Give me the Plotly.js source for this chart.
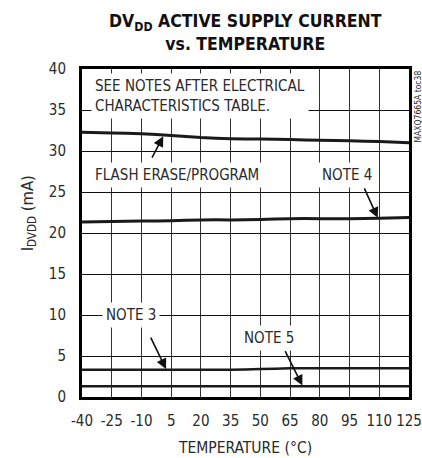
<!DOCTYPE html>
<html>
<head>
<meta charset="utf-8">
<script src="https://cdn.plot.ly/plotly-3.0.1.min.js"></script>
<style>html,body{margin:0;padding:0;background:#fff;}#chart{width:422px;height:458px;}</style>
</head>
<body>
<div id="chart"></div>
<script>
const temperature = [-40, -25, -10, 5, 20, 35, 50, 65, 80, 95, 110, 125];
const flashErase = [32.3, 32.2, 32.1, 31.9, 31.65, 31.5, 31.45, 31.4, 31.3, 31.25, 31.15, 31.0];
const note4 = [21.35, 21.4, 21.45, 21.5, 21.6, 21.6, 21.65, 21.75, 21.75, 21.75, 21.8, 21.9];
const note3 = [3.33, 3.33, 3.33, 3.33, 3.33, 3.33, 3.4, 3.5, 3.5, 3.5, 3.5, 3.5];
const note5 = [1.3, 1.3, 1.3, 1.3, 1.3, 1.3, 1.3, 1.3, 1.3, 1.3, 1.3, 1.3];
const xTicks = [-40, -25, -10, 5, 20, 35, 50, 65, 80, 95, 110, 125];
const yTicks = [0, 5, 10, 15, 20, 25, 30, 35, 40];

const FONT = '"Liberation Sans Narrow", "Arial Narrow", "DejaVu Sans Condensed", sans-serif';
const TXT = '#2a2a2a';

function line(y, w) {
  return {x: temperature, y: y, type: 'scatter', mode: 'lines',
    line: {color: '#1a1a1a', width: w, shape: 'spline', smoothing: 0.6},
    hoverinfo: 'skip', showlegend: false};
}

const data = [line(flashErase, 3), line(note4, 3), line(note3, 2.5), line(note5, 2.5)];

function label(text, x, y, xanchor, align) {
  return {text: text, x: x, y: y, xref: 'x', yref: 'y', showarrow: false,
    xanchor: xanchor || 'center', yanchor: 'middle', align: align || 'center',
    bgcolor: '#fff', borderpad: 3, font: {family: FONT, size: 15, color: TXT}};
}
function arrow(x, y, ax, ay) {
  return {text: '', x: x, y: y, xref: 'x', yref: 'y', showarrow: true,
    ax: ax, ay: ay, arrowhead: 2, arrowsize: 1.3, arrowwidth: 1.6, arrowcolor: '#111'};
}

const layout = {
  width: 422, height: 458,
  margin: {l: 82, r: 13, t: 69, b: 61},
  paper_bgcolor: '#fff', plot_bgcolor: '#fff',
  font: {family: FONT, color: TXT},
  xaxis: {range: [-40, 125], tickvals: xTicks, ticktext: xTicks.map(String),
    showgrid: true, gridcolor: '#333', gridwidth: 1, zeroline: false,
    showline: true, mirror: true, linecolor: '#000', linewidth: 3,
    ticks: '', tickangle: 0, ticklabeloverflow: 'allow', ticklabelstandoff: 8,
    tickfont: {family: FONT, size: 15, color: TXT},
    title: {text: 'TEMPERATURE (°C)', font: {family: FONT, size: 15.5, color: TXT}, standoff: 14}},
  yaxis: {range: [0, 40], tickvals: yTicks, ticktext: yTicks.map(String),
    showgrid: true, gridcolor: '#111', gridwidth: 1, zeroline: false,
    showline: true, mirror: true, linecolor: '#000', linewidth: 3,
    ticks: '', ticklabelstandoff: 10, tickfont: {family: FONT, size: 15, color: TXT},
    title: {text: ''}},
  annotations: [
    {text: '<b>DV<sub>DD</sub> ACTIVE SUPPLY CURRENT<br>vs. TEMPERATURE</b>', xref: 'paper', yref: 'paper',
      x: 0.5, y: 1.111, xanchor: 'center', yanchor: 'middle', showarrow: false, align: 'center',
      font: {family: FONT, size: 17.5, color: '#111'}},
    label('SEE NOTES AFTER ELECTRICAL<br>CHARACTERISTICS TABLE.', -35.5, 36.7, 'left', 'left'),
    label('FLASH ERASE/PROGRAM', -35.5, 27.1, 'left', 'left'),
    label('NOTE 4', 93.6, 27.1),
    label('NOTE 3', -15.3, 10.0),
    label('NOTE 5', 54.2, 7.2),
    arrow(1.0, 31.8, -12, 23),
    arrow(109.2, 21.85, -14, -31),
    arrow(2.4, 3.4, -16, -33),
    arrow(71.2, 1.4, -18, -36),
    {text: 'I<sub>DVDD</sub> (mA)', xref: 'paper', yref: 'paper', x: -0.165, y: 0.56,
      xanchor: 'center', yanchor: 'middle', textangle: -90, showarrow: false,
      font: {family: FONT, size: 16.5, color: TXT}},
    {text: 'MAXQ7665A toc38', xref: 'paper', yref: 'paper', x: 1.026, y: 1.0,
      xanchor: 'center', yanchor: 'top', textangle: -90, showarrow: false,
      font: {family: FONT, size: 8.5, color: TXT}}
  ]
};

Plotly.newPlot('chart', data, layout, {displayModeBar: false, staticPlot: true});
</script>
</body>
</html>
